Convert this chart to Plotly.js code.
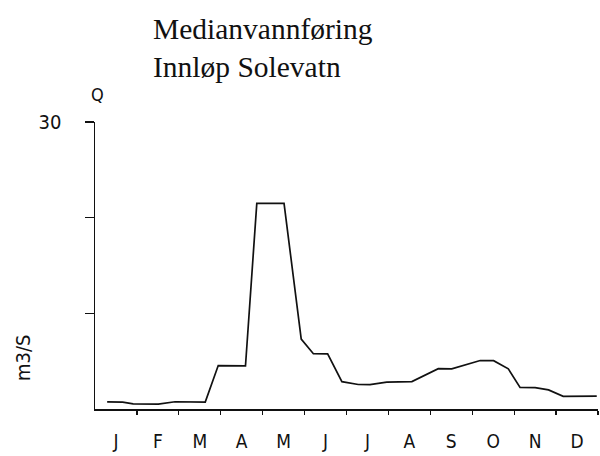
<!DOCTYPE html>
<html>
<head>
<meta charset="utf-8">
<script src="https://cdn.plot.ly/plotly-3.0.1.min.js"></script>
<style>html,body{margin:0;padding:0;background:#fff;}#chart{width:600px;height:456px;}</style>
</head>
<body>
<div id="chart"></div>
<script>
// time in months from 1 January (0..12)
var timeMonths = [0.29,0.66,0.91,1.51,1.91,2.63,2.94,3.59,3.86,4.51,4.92,5.21,5.55,5.89,6.28,6.56,6.96,7.24,7.56,8.19,8.51,9.19,9.51,9.86,10.14,10.5,10.82,11.17,11.57,11.97];
// median discharge, m3/s
var medianQ = [0.74,0.72,0.54,0.51,0.76,0.72,4.54,4.5,21.5,21.5,7.3,5.78,5.76,2.86,2.56,2.55,2.8,2.85,2.87,4.22,4.2,5.07,5.05,4.2,2.25,2.23,2.0,1.33,1.31,1.35];
var monthLabels = ['J','F','M','A','M','J','J','A','S','O','N','D'];
var monthCenters = [0.5,1.5,2.5,3.5,4.5,5.5,6.5,7.5,8.5,9.5,10.5,11.5];
var monthBounds = [1,2,3,4,5,6,7,8,9,10,11,12];
var yTickVals = [10,20,30];
var yTickText = ['','','30'];

var sans = 'DejaVu Sans Condensed, DejaVu Sans, sans-serif';

var trace = {
  x: timeMonths, y: medianQ, type: 'scatter', mode: 'lines',
  line: {color: '#111', width: 1.7, shape: 'linear'},
  hoverinfo: 'skip', showlegend: false
};

var layout = {
  width: 600, height: 456,
  margin: {l: 95, r: 2, t: 122, b: 47, pad: 0},
  paper_bgcolor: '#fff', plot_bgcolor: '#fff',
  title: {
    text: 'Medianvannføring<br>Innløp Solevatn',
    font: {family: 'Liberation Serif, Times New Roman, serif', size: 29.5, color: '#111'},
    xref: 'container', x: 153/600, xanchor: 'left',
    yref: 'container', y: 1 - 39/456, yanchor: 'top'
  },
  xaxis: {
    range: [0, 12], showgrid: false, zeroline: false,
    showline: true, linecolor: '#111', linewidth: 1.5,
    tickmode: 'array', tickvals: monthCenters, ticktext: monthLabels,
    ticks: '', ticklabelstandoff: 15,
    tickfont: {family: sans, size: 19, color: '#111'},
    minor: {tickmode: 'array', tickvals: monthBounds, ticks: 'outside', ticklen: 4, tickwidth: 1.2, tickcolor: '#111', showgrid: false},
    fixedrange: true
  },
  yaxis: {
    range: [0, 30], showgrid: false, zeroline: false,
    showline: true, linecolor: '#111', linewidth: 1.5,
    tickmode: 'array', tickvals: yTickVals, ticktext: yTickText,
    ticks: 'outside', ticklen: 9, tickwidth: 1.2, tickcolor: '#111',
    ticklabelstandoff: 19,
    tickfont: {family: sans, size: 20, color: '#111'},
    fixedrange: true
  },
  annotations: [
    {text: 'Q', xref: 'paper', yref: 'paper', x: 0, y: 1, xanchor: 'center', yanchor: 'middle',
     xshift: 2, yshift: 28, showarrow: false, font: {family: sans, size: 18, color: '#111'}},
    {text: 'm3/S', xref: 'paper', yref: 'paper', x: 0, y: (409-358)/287, xanchor: 'center', yanchor: 'middle',
     xshift: -72, textangle: -90, showarrow: false, font: {family: sans, size: 20, color: '#111'}}
  ]
};

Plotly.newPlot('chart', [trace], layout, {displayModeBar: false, staticPlot: true});
</script>
</body>
</html>
